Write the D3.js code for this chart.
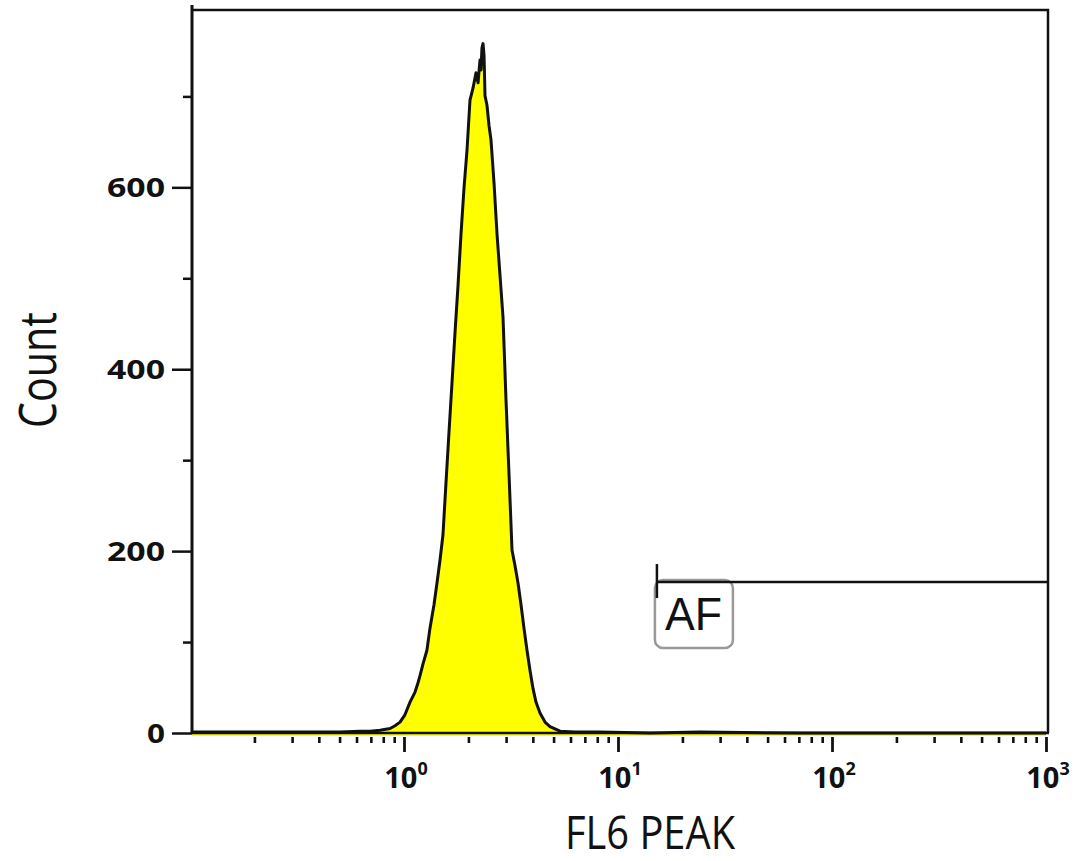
<!DOCTYPE html>
<html>
<head>
<meta charset="utf-8">
<script src="https://cdn.jsdelivr.net/npm/d3@7"></script>
<style>
  body { margin: 0; background: #fff; overflow: hidden; }
  svg { display: block; }
  #histogram text { fill: #111; }
</style>
</head>
<body>
<div id="histogram"></div>
<script>
// FL6 PEAK histogram values (channel value, event count)
var fl6Values = [0.1, 0.19, 0.327, 0.502, 0.623, 0.694, 0.773, 0.861, 0.908, 0.958,
  1.01, 1.067, 1.126, 1.162, 1.188, 1.227, 1.28, 1.322, 1.381, 1.426,
  1.473, 1.521, 1.571, 1.622, 1.676, 1.731, 1.788, 1.847, 1.907, 1.97,
  2.034, 2.101, 2.17, 2.218, 2.265, 2.29, 2.313, 2.34, 2.366, 2.39,
  2.443, 2.496, 2.55, 2.634, 2.72, 2.81, 2.902, 2.997, 3.096, 3.197,
  3.302, 3.41, 3.522, 3.637, 3.756, 3.879, 4.006, 4.137, 4.32, 4.56,
  4.81, 5.36, 6.3, 8.24, 14.1, 24.2, 70.9, 208, 1000];
var eventCounts = [1, 1, 1, 1, 2, 2, 3, 5, 8, 12,
  20, 34, 45, 55, 63, 76, 91, 115, 141, 165,
  190, 218, 275, 330, 385, 440, 492, 549, 599, 641,
  696, 709, 726, 715, 740, 729, 753, 758, 745, 701,
  690, 668, 652, 605, 549, 503, 457, 366, 284, 201,
  184, 165, 141, 115, 91, 69, 49, 34, 22, 12,
  7, 2, 1, 1, 0, 1, 0, 0, 0];

var yMajorTicks = [0, 200, 400, 600];
var yMinorTicks = [100, 300, 500, 700];
var xMajorTicks = [1, 10, 100, 1000];
var xMinorTicks = [0.2, 0.3, 0.4, 0.5, 0.6, 0.7, 0.8, 0.9,
  2, 3, 4, 5, 6, 7, 8, 9, 20, 30, 40, 50, 60, 70, 80, 90,
  200, 300, 400, 500, 600, 700, 800, 900];

// AF marker gate
var gateName = "AF";
var gateRange = [15.2, 1000];
var gateLevel = 166;

var width = 1079;
var height = 861;
var plotLeft = 192, plotRight = 1048, plotTop = 10, plotBottom = 733;

var data = fl6Values.map(function(v, i) { return { value: v, count: eventCounts[i] }; });

var svg = d3.select("#histogram").append("svg")
    .attr("width", width)
    .attr("height", height);

var x = d3.scaleLog().domain([0.1, 1000]).range([190, 1046]);
var y = d3.scaleLinear().domain([0, 795]).range([plotBottom, plotTop]);

svg.append("clipPath").attr("id", "plot-clip")
  .append("rect")
    .attr("x", plotLeft).attr("y", 0)
    .attr("width", plotRight - plotLeft).attr("height", plotBottom + 4);

// histogram fill + outline
var area = d3.area()
    .x(function(d) { return x(d.value); })
    .y0(plotBottom + 3)
    .y1(function(d) { return y(d.count); });

var line = d3.line()
    .x(function(d) { return x(d.value); })
    .y(function(d) { return y(d.count); });

var plot = svg.append("g").attr("clip-path", "url(#plot-clip)");

plot.append("path")
    .datum(data)
    .attr("d", area)
    .attr("fill", "#ffff00");

plot.append("path")
    .datum(data)
    .attr("d", line)
    .attr("fill", "none")
    .attr("stroke", "#111")
    .attr("stroke-width", 3)
    .attr("stroke-linejoin", "round");

// frame
svg.append("path")
    .attr("d", "M" + plotLeft + "," + plotTop + "H" + plotRight + "V" + plotBottom)
    .attr("fill", "none")
    .attr("stroke", "#111")
    .attr("stroke-width", 2.5);
svg.append("line")
    .attr("x1", plotLeft).attr("x2", plotRight + 1)
    .attr("y1", plotBottom).attr("y2", plotBottom)
    .attr("stroke", "#111").attr("stroke-width", 2.5);
svg.append("line")
    .attr("x1", plotLeft).attr("x2", plotLeft)
    .attr("y1", 5).attr("y2", plotBottom + 1)
    .attr("stroke", "#111").attr("stroke-width", 3);

// y axis
var yMajor = svg.append("g")
    .attr("transform", "translate(" + plotLeft + ",0)")
    .call(d3.axisLeft(y).tickValues(yMajorTicks).tickSize(20).tickPadding(7));
var yMinor = svg.append("g")
    .attr("transform", "translate(" + plotLeft + ",0)")
    .call(d3.axisLeft(y).tickValues(yMinorTicks).tickSize(9).tickFormat(""));
[yMajor, yMinor].forEach(function(g) {
  g.select(".domain").remove();
  g.selectAll(".tick line").attr("stroke", "#111").attr("stroke-width", 2.5);
});
yMajor.selectAll(".tick text")
    .attr("font-family", "'Open Sans', sans-serif")
    .attr("font-weight", "bold")
    .attr("font-size", 27)
    .attr("dy", "0.35em")
    .attr("textLength", function(d) { return d === 0 ? 18 : 58; })
    .attr("lengthAdjust", "spacingAndGlyphs");

// x axis
var xMajor = svg.append("g")
    .attr("transform", "translate(0," + (plotBottom + 4) + ")")
    .call(d3.axisBottom(x).tickValues(xMajorTicks).tickSize(15).tickFormat(""));
var xMinor = svg.append("g")
    .attr("transform", "translate(0," + (plotBottom + 4) + ")")
    .call(d3.axisBottom(x).tickValues(xMinorTicks).tickSize(6).tickFormat(""));
[xMajor, xMinor].forEach(function(g) {
  g.select(".domain").remove();
  g.selectAll(".tick line").attr("stroke", "#111");
});
xMajor.selectAll(".tick line").attr("stroke-width", 2.8);
xMinor.selectAll(".tick line").attr("stroke-width", 2.6);

var xLabels = svg.append("g").selectAll("text")
    .data(xMajorTicks)
    .enter()
    .append("text")
    .attr("x", function(d) { return x(d) + 2; })
    .attr("y", 788)
    .attr("text-anchor", "middle")
    .attr("font-family", "'Open Sans', sans-serif")
    .attr("font-weight", "bold")
    .attr("font-size", 29);
xLabels.append("tspan").text("10");
xLabels.append("tspan")
    .attr("dy", -13)
    .attr("font-size", 18)
    .text(function(d) { return Math.round(Math.log10(d)); });

// axis titles
svg.append("text")
    .attr("x", 565)
    .attr("y", 849)
    .attr("font-family", "'Open Sans', sans-serif")
    .attr("font-size", 45)
    .attr("textLength", 170)
    .attr("lengthAdjust", "spacingAndGlyphs")
    .text("FL6 PEAK");

svg.append("text")
    .attr("transform", "translate(56,370) rotate(-90)")
    .attr("text-anchor", "middle")
    .attr("font-family", "'Open Sans', sans-serif")
    .attr("font-size", 52)
    .attr("textLength", 116)
    .attr("lengthAdjust", "spacingAndGlyphs")
    .text("Count");

// gate marker
var gx = x(gateRange[0]);
var gy = y(gateLevel);

svg.append("rect")
    .attr("x", gx - 2).attr("y", gy - 2)
    .attr("width", 78).attr("height", 68)
    .attr("rx", 8)
    .attr("fill", "#fff")
    .attr("stroke", "#999")
    .attr("stroke-width", 2.5);

svg.append("text")
    .attr("x", gx + 8)
    .attr("y", gy + 48)
    .attr("font-family", "'Liberation Sans', Arial, sans-serif")
    .attr("font-size", 46)
    .attr("textLength", 57)
    .attr("lengthAdjust", "spacingAndGlyphs")
    .text(gateName);

svg.append("line")
    .attr("x1", gx).attr("x2", x(gateRange[1]) + 2)
    .attr("y1", gy).attr("y2", gy)
    .attr("stroke", "#111").attr("stroke-width", 2.5);
svg.append("line")
    .attr("x1", gx).attr("x2", gx)
    .attr("y1", gy - 18).attr("y2", gy + 16)
    .attr("stroke", "#111").attr("stroke-width", 2.5);
</script>
</body>
</html>
